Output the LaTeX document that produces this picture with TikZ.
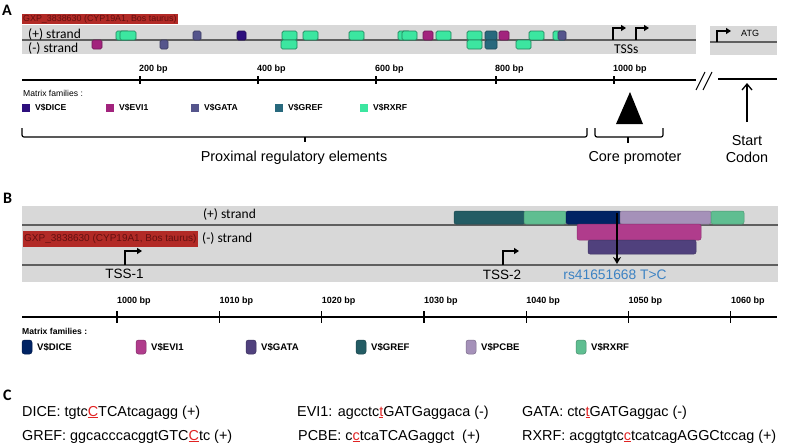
\documentclass[tikz,border=0pt]{standalone}
\usepackage{fontspec}
\setmainfont{Liberation Sans}
\newfontfamily\calib{Carlito}
\usetikzlibrary{arrows.meta}
\newcommand\myfs[1]{\fontsize{#1}{#1}\selectfont}
\definecolor{bandgray}{RGB}{216,216,216}
\definecolor{linegray}{RGB}{95,95,95}
\definecolor{labred}{RGB}{178,42,38}
\definecolor{labtext}{RGB}{100,16,16}
\definecolor{diceA}{RGB}{45,15,125}
\definecolor{eviA}{RGB}{162,35,125}
\definecolor{gataA}{RGB}{85,85,140}
\definecolor{grefA}{RGB}{40,105,125}
\definecolor{rxrfA}{RGB}{60,230,160}
\definecolor{rxrfAd}{RGB}{30,130,90}
\definecolor{diceB}{RGB}{0,35,100}
\definecolor{eviB}{RGB}{176,60,140}
\definecolor{gataB}{RGB}{80,65,125}
\definecolor{grefB}{RGB}{35,92,100}
\definecolor{pcbeB}{RGB}{165,145,185}
\definecolor{rxrfB}{RGB}{95,190,145}
\definecolor{snpblue}{RGB}{60,130,195}
\definecolor{snpred}{RGB}{225,35,35}
\newcommand\snp[1]{{\color{snpred}\underline{#1}}}
\tikzset{
  strandline/.style={draw=linegray, line width=1.2pt},
  tssarrow/.style={draw=black, line width=1.3pt, -{Triangle[length=5pt,width=6pt]}},
  boxa/.style={rounded corners=1.5pt, line width=0.7pt},
  rxa/.style={boxa, fill=rxrfA, draw=rxrfAd},
  eva/.style={boxa, fill=eviA, draw=eviA!70!black},
  gaa/.style={boxa, fill=gataA, draw=gataA!70!black},
  dia/.style={boxa, fill=diceA, draw=diceA!70!black},
  gra/.style={boxa, fill=grefA, draw=grefA!70!black},
  boxb/.style={rounded corners=2pt, line width=0.5pt},
  scalebar/.style={draw=black, line width=1.4pt},
  tick/.style={draw=black, line width=1.2pt},
  ticklab/.style={anchor=west, inner sep=0pt, font=\bfseries\myfs{9}},
  leglab/.style={anchor=west, inner sep=0pt, font=\bfseries\myfs{8.6}},
  legbox/.style={rounded corners=2.5pt, line width=0.5pt},
  brace/.style={draw=black, line width=1.2pt},
  biglab/.style={inner sep=0pt, font=\myfs{14.4}},
  strandlab/.style={inner sep=0pt, font=\calib\myfs{13.5}},
  panel/.style={anchor=west, inner sep=0pt, font=\calib\bfseries\myfs{16}},
  seq/.style={anchor=base west, inner sep=0pt, font=\myfs{14.4}},
}
\begin{document}
\begin{tikzpicture}[x=1pt,y=-1pt]
\useasboundingbox (0,0) rectangle (787,445);
\fill[white] (0,0) rectangle (787,445);

% ===================== Panel A =====================
\node[panel] (pA) at (2,10) {A};
\node[anchor=north west, fill=labred, text=labtext, inner xsep=1pt, inner ysep=0pt,
      minimum height=10pt, font=\myfs{8.9}] (gxpA) at (22,14) {GXP\_3838630 (CYP19A1, Bos taurus)};
\fill[bandgray] (22,25) rectangle (696,54);
\draw[strandline] (22,40) -- (696,40);
\node[strandlab, anchor=west] (plusA) at (28,34) {(+) strand};
\node[strandlab, anchor=west] (minusA) at (28,48.5) {(-) strand};

% TF boxes, panel A
\foreach \x/\w in {116/13,120/16,282/15,303/15,349/15,398/12,402/15,436/15,467/15,529/15,553/12}
  \draw[rxa] (\x,31) rectangle ++(\w,9);
\foreach \x/\w in {281/16,467/15,516/15}
  \draw[rxa] (\x,40) rectangle ++(\w,9);
\foreach \x in {423,499} \draw[eva] (\x,31) rectangle ++(10,9);
\draw[eva] (92,40) rectangle ++(10,9);
\foreach \x in {193,558} \draw[gaa] (\x,31) rectangle ++(8,9);
\draw[gaa] (160,40) rectangle ++(8,9);
\draw[dia] (237,31) rectangle ++(9,9);
\draw[gra] (485,31) rectangle ++(12,9);
\draw[gra] (485,40) rectangle ++(12,9);

% TSSs
\coordinate (tA1b) at (613,40); \coordinate (tA1c) at (613,28); \coordinate (tA1e) at (626,28);
\coordinate (tA2b) at (636,40); \coordinate (tA2c) at (636,28); \coordinate (tA2e) at (649,28);
\draw[tssarrow] (tA1b) -- (tA1c) -- (tA1e);
\draw[tssarrow] (tA2b) -- (tA2c) -- (tA2e);
\node[strandlab, anchor=west] (tssA) at (614,49) {TSSs};

% ATG box
\fill[bandgray] (710,26) rectangle (777,55);
\draw[strandline] (710,42) -- (777,42);
\coordinate (atgb) at (717,42); \coordinate (atgc) at (717,31); \coordinate (atge) at (731,31);
\draw[tssarrow] (atgb) -- (atgc) -- (atge);
\node[anchor=west, inner sep=0pt, font=\myfs{9}] (atg) at (741,33) {ATG};

% scale bar A
\coordinate (sA0) at (22,80); \coordinate (sA1) at (696,80);
\draw[scalebar] (sA0) -- (sA1);
\foreach \x/\l in {140/200,258/400,376/600,496/800,614/1000}{
  \draw[tick] (\x,76) -- (\x,84);
  \node[ticklab] at (\x-1,69) {\l{} bp};
}
\draw[line width=1pt] (696,90) -- (705,72);
\draw[line width=1pt] (703,90) -- (712,72);
\coordinate (sA2) at (718,79); \coordinate (sA3) at (777,79);
\draw[scalebar] (sA2) -- (sA3);

% legend A
\node[anchor=west, inner sep=0pt, font=\myfs{8.6}] (mfA) at (23,93) {Matrix families :};
\foreach \x/\c/\l in {22/diceA/DICE,106/eviA/EVI1,191/gataA/GATA,275/grefA/GREF,360/rxrfA/RXRF}{
  \fill[\c] (\x,103.5) rectangle ++(8,8.5);
  \node[leglab] at (\x+13,108) {V\$\l};
}

% triangle, start codon arrow
\fill[black] (616,124) -- (643,124) -- (630,92) -- cycle;
\coordinate (scB) at (747,122); \coordinate (scT) at (747,83);
\draw[line width=1.3pt, -{Straight Barb[length=6pt,width=10pt]}] (scB) -- (scT);

% braces
\draw[brace, rounded corners=2pt] (22,128) -- (22,137) -- (587,137) -- (587,128);
\draw[brace] (305,137) -- (305,142);
\draw[brace, rounded corners=2pt] (595,128) -- (595,137) -- (663,137) -- (663,128);
\draw[brace] (628,137) -- (628,143);
\node[biglab] (prox) at (294,158) {Proximal regulatory elements};
\node[biglab] (core) at (635,158) {Core promoter};
\node[biglab] (start1) at (747,141) {Start};
\node[biglab] (start2) at (747,157.5) {Codon};

% ===================== Panel B =====================
\node[panel] (pB) at (3,198) {B};
\fill[bandgray] (22,206) rectangle (778,282);
\draw[strandline, line width=1.8pt] (22,225) -- (778,225);
\draw[strandline, line width=1.8pt] (22,265) -- (778,265);
\node[strandlab] (plusB) at (229.5,214.5) {(+) strand};
\node[anchor=north west, fill=labred, text=labtext, inner xsep=1pt, inner ysep=0pt,
      minimum height=16pt, font=\myfs{10}] (gxpB) at (23,231) {GXP\_3838630 (CYP19A1, Bos taurus)};
\node[strandlab, anchor=west] (minusB) at (202,238) {(-) strand};

% TF boxes, panel B
\draw[boxb, fill=grefB, draw=grefB!80!black] (454,211) rectangle (525,224);
\draw[boxb, fill=rxrfB, draw=rxrfB!80!black] (524,211) rectangle (566,224);
\draw[boxb, fill=diceB, draw=diceB!80!black] (566,211) rectangle (621,224);
\draw[boxb, fill=pcbeB, draw=pcbeB!80!black] (620,211) rectangle (711,224);
\draw[boxb, fill=rxrfB, draw=rxrfB!80!black] (711,211) rectangle (744,224);
\draw[boxb, fill=eviB, draw=eviB!80!black] (577,224) rectangle (701,240);
\draw[boxb, fill=gataB, draw=gataB!80!black] (588,240) rectangle (696,254);

% TSS-1, TSS-2
\coordinate (t1b) at (125,265); \coordinate (t1c) at (125,251); \coordinate (t1e) at (142,251);
\draw[tssarrow] (t1b) -- (t1c) -- (t1e);
\node[inner sep=0pt, font=\myfs{13.5}] (tss1) at (124.5,274) {TSS-1};
\coordinate (t2b) at (503,265); \coordinate (t2c) at (503,251); \coordinate (t2e) at (519,251);
\draw[tssarrow] (t2b) -- (t2c) -- (t2e);
\node[inner sep=0pt, font=\myfs{13.5}] (tss2) at (502,274.5) {TSS-2};
\node[inner sep=0pt, text=snpblue, font=\myfs{13.8}] (rs) at (615,274.5) {rs41651668 T>C};
\coordinate (snpT) at (617,213); \coordinate (snpB) at (617,264);
\draw[line width=2.6pt, -{Stealth[length=7pt,width=8pt]}] (snpT) -- (snpB);

% scale bar B
\coordinate (sB0) at (22,317); \coordinate (sB1) at (777,317);
\draw[scalebar, line width=2pt] (sB0) -- (sB1);
\foreach \k in {0,...,6}{
  \pgfmathsetmacro\xx{117+102.3*\k}
  \pgfmathtruncatemacro\bp{1000+10*\k}
  \draw[tick] (\xx,311) -- (\xx,323);
  \node[ticklab] at (\xx,301) {\bp{} bp};
}

% legend B
\node[anchor=west, inner sep=0pt, font=\bfseries\myfs{8.6}] (mfB) at (22,331) {Matrix families :};
\foreach \x/\c/\l in {22/diceB/DICE,136/eviB/EVI1,246/gataB/GATA,356/grefB/GREF,466/pcbeB/PCBE,576/rxrfB/RXRF}{
  \draw[legbox, fill=\c, draw=\c!75!black] (\x,340) rectangle ++(10,14);
  \node[leglab, font=\bfseries\myfs{9.6}] at (\x+15,347) {V\$\l};
}

% ===================== Panel C =====================
\node[panel] (pC) at (3,395) {C};
\node[seq] (dice) at (22,416) {DICE: tgtc\snp{C}TCAtcagagg (+)};
\node[seq] (gref) at (22,440) {GREF: ggcacccacggtGTC\snp{C}tc (+)};
\node[seq] (evi) at (297,416) {EVI1: agcctc\snp{t}GATGaggaca (-)};
\node[seq] (pcbe) at (298,440) {PCBE: c\snp{c}tcaTCAGaggct\ \ (+)};
\node[seq] (gata) at (522,416) {GATA: ctc\snp{t}GATGaggac (-)};
\node[seq] (rxrf) at (522,440) {RXRF: acggtgtc\snp{c}tcatcagAGGCtccag (+)};
\end{tikzpicture}
\end{document}
